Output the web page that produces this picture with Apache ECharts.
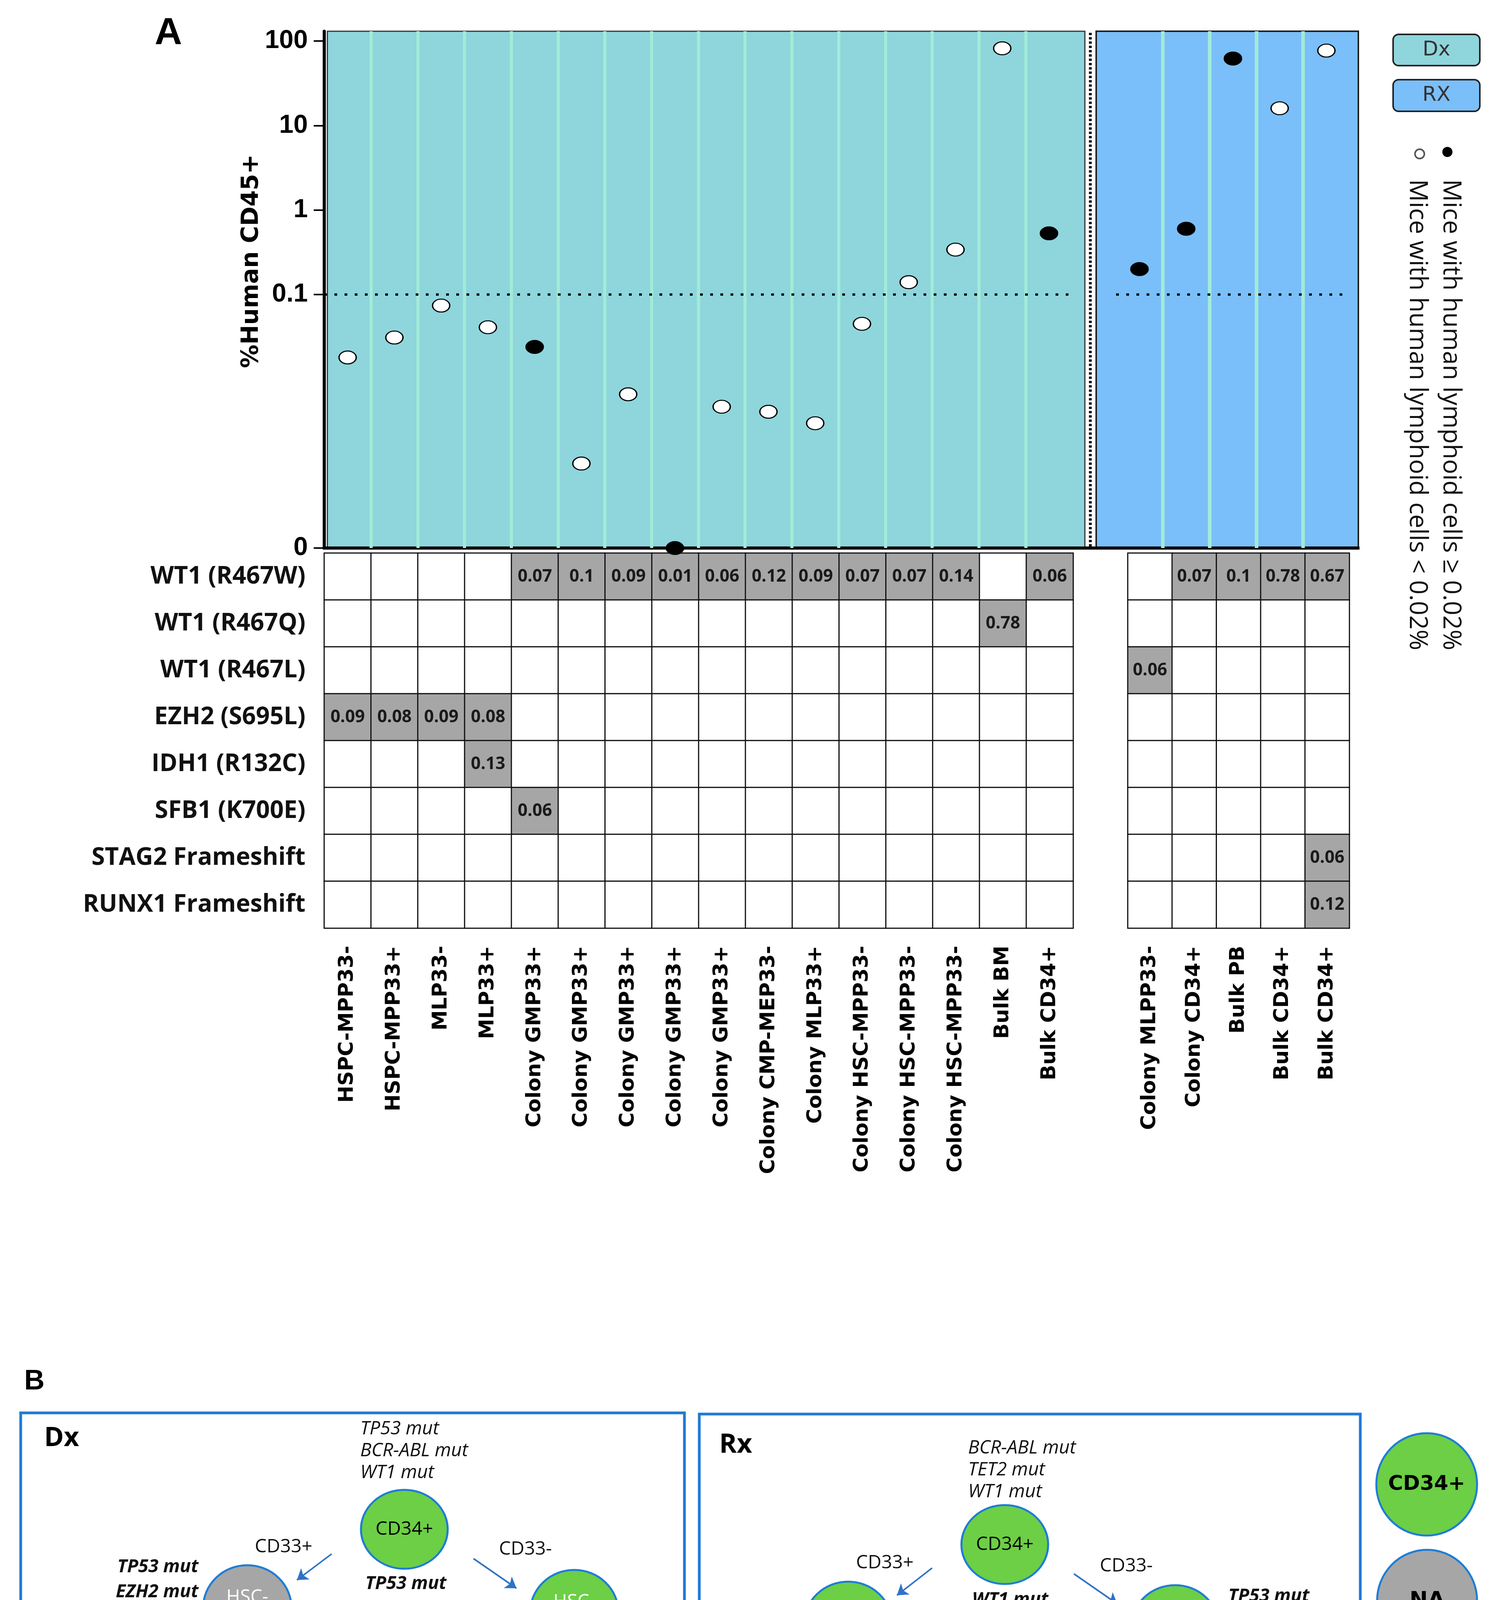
<!DOCTYPE html>
<html>
<head>
<meta charset="utf-8">
<script src="https://cdn.jsdelivr.net/npm/echarts@6/dist/echarts.min.js"></script>
<style>html,body{margin:0;padding:0;background:#fff;overflow:hidden}#chart{width:3855px;height:5317px}</style>
</head>
<body>
<div id="chart"></div>
<script>
// ================= DATA =================
const dxCategories = ['HSPC-MPP33-','HSPC-MPP33+','MLP33-','MLP33+','Colony GMP33+','Colony GMP33+','Colony GMP33+','Colony GMP33+','Colony GMP33+','Colony CMP-MEP33-','Colony MLP33+','Colony HSC-MPP33-','Colony HSC-MPP33-','Colony HSC-MPP33-','Bulk BM','Bulk CD34+'];
const rxCategories = ['Colony MLPP33-','Colony CD34+','Bulk PB','Bulk CD34+','Bulk CD34+'];
const dxHumanCD45 = [0.018, 0.031, 0.074, 0.041, 0.024, 0.001, 0.0066, 0, 0.0047, 0.0041, 0.0030, 0.045, 0.14, 0.34, 82, 0.53];
const rxHumanCD45 = [0.20, 0.60, 62, 16, 77];
const dxLymphoidHigh = [0,0,0,0,1,0,0,1,0,0,0,0,0,0,0,1];
const rxLymphoidHigh = [1,1,1,0,0];
const yTickLabels = [0, 0.1, 1, 10, 100];
const thresholdLine = 0.1;

const mutationRows = ['WT1 (R467W)','WT1 (R467Q)','WT1 (R467L)','EZH2 (S695L)','IDH1 (R132C)','SFB1 (K700E)','STAG2 Frameshift','RUNX1 Frameshift'];
const _ = null;
const dxVAF = [
  [_,_,_,_,0.07,0.1,0.09,0.01,0.06,0.12,0.09,0.07,0.07,0.14,_,0.06],
  [_,_,_,_,_,_,_,_,_,_,_,_,_,_,0.78,_],
  [_,_,_,_,_,_,_,_,_,_,_,_,_,_,_,_],
  [0.09,0.08,0.09,0.08,_,_,_,_,_,_,_,_,_,_,_,_],
  [_,_,_,0.13,_,_,_,_,_,_,_,_,_,_,_,_],
  [_,_,_,_,0.06,_,_,_,_,_,_,_,_,_,_,_],
  [_,_,_,_,_,_,_,_,_,_,_,_,_,_,_,_],
  [_,_,_,_,_,_,_,_,_,_,_,_,_,_,_,_]
];
const rxVAF = [
  [_,0.07,0.1,0.78,0.67],
  [_,_,_,_,_],
  [0.06,_,_,_,_],
  [_,_,_,_,_],
  [_,_,_,_,_],
  [_,_,_,_,_],
  [_,_,_,_,0.06],
  [_,_,_,_,0.12]
];

const treeNodeNames = {cd34:'CD34+', hscL:'HSC-\nMPP', hscR:'HSC-\nMPP', cmpL:'CMP', mlpL:'MLP', gmpL:'GMP', cmpR:'CMP', mlpR:'MLP', gmpR:'GMP'};
const treeEdges = [['cd34','hscL'],['cd34','hscR'],['hscL','cmpL'],['hscL','mlpL'],['cmpL','gmpL'],['hscR','cmpR'],['hscR','mlpR'],['cmpR','gmpR']];
const branchNames = ['CD33+','CD33-'];
const statusNames = ['CD34+','NA','Engraft'];
const dxStatus = {cd34:'CD34+', hscL:'NA', hscR:'CD34+', cmpL:'NA', mlpL:'Engraft', gmpL:'Engraft', cmpR:'NA', mlpR:'Engraft', gmpR:'Engraft'};
const rxStatus = {cd34:'CD34+', hscL:'CD34+', hscR:'CD34+', cmpL:'Engraft', mlpL:'CD34+', gmpL:'CD34+', cmpR:'Engraft', mlpR:'CD34+', gmpR:'CD34+'};
const dxMutations = {
  bulk: ['TP53 mut','BCR-ABL mut','WT1 mut'],
  cd34: ['TP53 mut','RUNX1 mut','WT1 mut'],
  hscL: ['TP53 mut','EZH2 mut','ASXL1 mut','WT1 mut'],
  cmpL: ['TP53 mut','RUNX1 mut','WT1 mut'],
  mlpL: ['TP53 mut','RUNX1 mut','WT1 mut',['IDH1 mut','cyan']],
  gmpL: ['TP53 mut','RUNX1 mut','WT1 mut','IDH1 mut',['TET2 mut','red'],'PPM1D mut','SF3B1 mut'],
  cmpR: ['WT1 mut'],
  gmpR: ['WT1 mut']
};
const rxMutations = {
  bulk: ['BCR-ABL mut','TET2 mut','WT1 mut'],
  cd34: ['WT1 mut',['RUNX1 mut','cyan'],['STAG2 mut','cyan']],
  hscL: ['NA'],
  hscR: ['TP53 mut','RUNX1 mut','WT1 mut','IDH1 mut'],
  mlpL: ['TP53 mut','RUNX1 mut','WT1 mut','PTPN11 mut'],
  gmpL: ['TP53 mut','RUNX1 mut','WT1 mut',['NA','cyan']],
  gmpR: ['TP53 mut','WT1 mut','SF3B1 mut',['NA','cyan']]
};

// ================= STYLE / LAYOUT =================
const F_UI = "'Open Sans','Noto Sans',sans-serif";
const F_AX = "'DejaVu Sans',Verdana,sans-serif";
const F_AR = "'Liberation Sans',Arial,sans-serif";
const ELLIPSE = 'path://M0 50A50 50 0 1 1 100 50A50 50 0 1 1 0 50Z';
const C = {teal:'#8FD5DC', blue:'#7ABFF9', stripe:'#A2EBD7', cell:'#A6A6A6', green:'#6CCF45', gray:'#A6A6A6',
  navy:'#0A549C', ring:'#1E7DD6', arrow:'#2F72C8', cyan:'#00B0F0', red:'#FF0000', frame:'#1F7AD6'};
const STATUS_FILL = {'CD34+':C.green, 'NA':C.gray, 'Engraft':C.navy};
const STATUS_TEXT = {'CD34+':'#000', 'NA':'#fff', 'Engraft':'#fff'};
const CLEAR = 'rgba(0,0,0,0)';
const Y_FLOOR = 1e-4;
const Y_TOP = 130.5;

const LAYOUT = {
  dx: {
    nodes: {cd34:[1035,3915], hscL:[633,4116], hscR:[1470,4128], cmpL:[445,4400], mlpL:[758,4400], gmpL:[446,4675], cmpR:[1296,4411], mlpR:[1600,4417], gmpR:[1297,4687]},
    textColor: {hscR:'#fff', cmpL:'#000'},
    arrows: [[849,3978,760,4045],[1212,3990,1322,4066],[536,4253,513,4288],[704,4253,735,4288],[446,4538,446,4568],[1387,4267,1368,4300],[1546,4267,1578,4306],[1297,4550,1297,4579]],
    notes: {bulk:{x:922,y:3630,align:'left',base:'i'}, cd34:{x:1039,y:4022,align:'center'}, hscL:{x:508,y:3979,align:'right'}, cmpL:{x:321,y:4294,align:'right'},
            mlpL:{x:667,y:4516,align:'left'}, gmpL:{x:335,y:4781,align:'left'}, cmpR:{x:1175,y:4385,align:'right'}, gmpR:{x:1296,y:4805,align:'center'}},
    branch: [[726,3960],[1345,3966]],
    frame: [53,3617,1699,1638], title: [113,3683], titleText: 'Dx'
  },
  rx: {
    nodes: {cd34:[2572,3954], hscL:[2171,4158], hscR:[3008,4167], cmpL:[1983,4433], mlpL:[2299,4439], gmpL:[1983,4710], cmpR:[2835,4450], mlpR:[3139,4461], gmpR:[2835,4727]},
    textColor: {},
    arrows: [[2386,4014,2296,4084],[2749,4029,2860,4106],[2076,4295,2053,4328],[2241,4295,2273,4331],[1983,4567,1983,4601],[2927,4306,2907,4342],[3084,4306,3117,4344],[2835,4581,2835,4612]],
    notes: {bulk:{x:2478,y:3679,align:'left',base:'i'}, cd34:{x:2586,y:4063,align:'center'}, hscL:{x:2031,y:4118,align:'right'}, hscR:{x:3144,y:4054,align:'left'},
            mlpL:{x:2204,y:4556,align:'left'}, gmpL:{x:1872,y:4824,align:'left'}, gmpR:{x:2734,y:4846,align:'left'}},
    branch: [[2265,4001],[2883,4009]],
    frame: [1790,3620,1692,1640], title: [1841,3700], titleText: 'Rx'
  },
  legendNodes: [[3652,3800,258,262],[3653,4098,256,261],[3657,4394,263,262]]
};

// ================= BUILD =================
function scatterData(vals, flags) {
  return vals.map((v, i) => ({ value: [i, v === 0 ? Y_FLOOR : v], itemStyle: { color: flags[i] ? '#000' : '#fff' } }));
}
// light column stripes on the boundaries between samples + dotted threshold line
function panelLines(nCats, stripeWidth) {
  const out = [];
  for (let k = 1; k < nCats; k++) {
    out.push({ xAxis: k - 0.5, lineStyle: { color: C.stripe, width: stripeWidth, type: 'solid' } });
  }
  out.push({ yAxis: thresholdLine, lineStyle: { color: '#000', width: 6, type: [7, 19] } });
  return out;
}
function heatData(table) {
  const out = [];
  table.forEach((row, r) => row.forEach((v, c) => {
    out.push({ value: [c, r, v == null ? 0 : v], itemStyle: { color: v == null ? '#fff' : C.cell },
      label: { show: v != null, formatter: v == null ? '' : String(v) } });
  }));
  return out;
}
const tickExp = yTickLabels.map(v => Math.log10(v === 0 ? Y_FLOOR : v));
function tickFormatter(val) {
  const i = tickExp.findIndex(t => Math.abs(t - val) < 1e-6);
  return i < 0 ? '' : String(yTickLabels[i]);
}

const nodeItems = [], arrowItems = [], noteItems = [];
function buildPanel(key, status, mutations) {
  const L = LAYOUT[key];
  Object.keys(treeNodeNames).forEach(id => {
    const p = L.nodes[id];
    const st = status[id];
    const size = id === 'cd34' ? [222, 202] : [226, 218];
    nodeItems.push({ value: p, symbolSize: size, itemStyle: { color: STATUS_FILL[st] },
      label: { formatter: treeNodeNames[id], color: L.textColor[id] || STATUS_TEXT[st] } });
  });
  treeEdges.forEach((e, i) => {
    const a = L.arrows[i];
    arrowItems.push({ coords: [[a[0], a[1]], [a[2], a[3]]] });
  });
  Object.keys(mutations).forEach(id => {
    const n = L.notes[id];
    const base = n.base || 'b';
    const txt = mutations[id].map(l => {
      const t = Array.isArray(l) ? l[0] : l;
      const tone = Array.isArray(l) ? l[1] : null;
      const k = tone === 'cyan' ? (base + 'c') : tone === 'red' ? (base + 'r') : base;
      return '{' + k + '|' + t + '}';
    }).join('\n');
    noteItems.push({ value: [n.x, n.y], label: { formatter: txt, align: n.align, verticalAlign: 'top' } });
  });
  branchNames.forEach((b, i) => {
    noteItems.push({ value: L.branch[i], label: { formatter: '{n|' + b + '}', align: 'center', verticalAlign: 'middle' } });
  });
}
buildPanel('dx', dxStatus, dxMutations);
buildPanel('rx', rxStatus, rxMutations);

const legendItems = statusNames.map((s, i) => {
  const g = LAYOUT.legendNodes[i];
  return { value: [g[0], g[1]], symbolSize: [g[2], g[3]],
    itemStyle: { color: STATUS_FILL[s], borderColor: s === 'Engraft' ? '#123A6B' : C.ring },
    label: { formatter: s === 'Engraft' ? '' : s, color: '#000', fontFamily: F_AX, fontWeight: 'bold', fontSize: s === 'NA' ? 56 : 52 } };
});
const engraftIdx = statusNames.indexOf('Engraft');
const engraftPos = LAYOUT.legendNodes[engraftIdx];

const richBase = { fontFamily: F_UI, fontStyle: 'italic', fontWeight: 'bold', fontSize: 47, lineHeight: 64.5 };
const richLight = { fontFamily: F_UI, fontStyle: 'italic', fontWeight: 500, fontSize: 48, lineHeight: 56 };
const rich = {
  b: Object.assign({ color: '#111' }, richBase),
  bc: Object.assign({ color: C.cyan }, richBase),
  br: Object.assign({ color: C.red }, richBase),
  i: Object.assign({ color: '#111' }, richLight),
  n: { fontFamily: F_UI, fontSize: 48, color: '#111', lineHeight: 60 },
  e: { fontFamily: F_AX, fontWeight: 'bold', fontSize: 50, color: '#fff', lineHeight: 60 }
};
noteItems.push({ value: [engraftPos[0], engraftPos[1]], label: { formatter: '{e|Engraft}', align: 'center', verticalAlign: 'middle' } });

function frameRect(L) {
  const f = L.frame;
  return [
    { type: 'rect', shape: { x: f[0], y: f[1], width: f[2], height: f[3] }, style: { fill: 'none', stroke: C.frame, lineWidth: 7 } },
    { type: 'text', x: L.title[0], y: L.title[1], style: { text: L.titleText, font: "bold 68px 'Open Sans'", fill: '#000', align: 'left', verticalAlign: 'middle', textAlign: 'left', textVerticalAlign: 'middle' } }
  ];
}
function legendBox(y, h, fill, label) {
  return [
    { type: 'rect', shape: { x: 3566, y: y, width: 222, height: h, r: 14 }, style: { fill: fill, stroke: '#222', lineWidth: 4 } },
    { type: 'text', x: 3677, y: y + h / 2, style: { text: label, font: "52px 'DejaVu Sans'", fill: '#333', align: 'center', verticalAlign: 'middle', textAlign: 'center', textVerticalAlign: 'middle' } }
  ];
}
const graphics = [
  { type: 'rect', z: -1, shape: { x: 838, y: 80, width: 1939, height: 1323 }, style: { fill: C.teal, stroke: '#333', lineWidth: 3 } },
  { type: 'rect', z: -1, shape: { x: 2806, y: 80, width: 671, height: 1323 }, style: { fill: C.blue, stroke: '#222', lineWidth: 4 } },
  { type: 'line', z: 3, shape: { x1: 2791, y1: 84, x2: 2791, y2: 1400 }, style: { stroke: '#000', lineWidth: 7, lineDash: [6, 5] } },
  { type: 'line', z: 3, shape: { x1: 826, y1: 1403, x2: 3480, y2: 1403 }, style: { stroke: '#000', lineWidth: 8 } },
  { type: 'text', x: 396, y: 86, style: { text: 'A', font: "bold 97px 'Liberation Sans'", fill: '#000', align: 'left', verticalAlign: 'middle', textAlign: 'left', textVerticalAlign: 'middle' } },
  { type: 'text', x: 62, y: 3537, style: { text: 'B', font: "bold 72px 'Liberation Sans'", fill: '#000', align: 'left', verticalAlign: 'middle', textAlign: 'left', textVerticalAlign: 'middle' } },
  ...legendBox(88, 80, C.teal, 'Dx'),
  ...legendBox(204, 81, C.blue, 'RX'),
  { type: 'circle', shape: { cx: 3705, cy: 389, r: 13 }, style: { fill: '#000' } },
  { type: 'circle', shape: { cx: 3634, cy: 394, r: 12 }, style: { fill: '#fff', stroke: '#555', lineWidth: 4 } },
  { type: 'text', x: 3713, y: 459, rotation: -Math.PI / 2, style: { text: 'Mice with human lymphoid cells \u2265 0.02%', font: "64px 'Open Sans'", fill: '#111', align: 'left', verticalAlign: 'middle', textAlign: 'left', textVerticalAlign: 'middle' } },
  { type: 'text', x: 3627, y: 459, rotation: -Math.PI / 2, style: { text: 'Mice with human lymphoid cells < 0.02%', font: "64px 'Open Sans'", fill: '#111', align: 'left', verticalAlign: 'middle', textAlign: 'left', textVerticalAlign: 'middle' } },
  ...frameRect(LAYOUT.dx),
  ...frameRect(LAYOUT.rx)
];

const scatterCommon = {
  type: 'scatter', symbol: ELLIPSE, symbolSize: [44, 33], z: 5, clip: false,
  itemStyle: { borderColor: '#000', borderWidth: 3, opacity: 1 },
  emphasis: { disabled: true }
};
const markCommon = { silent: true, symbol: 'none', label: { show: false }, animation: false, emphasis: { disabled: true } };
const heatCommon = {
  type: 'heatmap', z: 2,
  itemStyle: { borderColor: '#111', borderWidth: 3 },
  label: { show: true, fontFamily: F_UI, fontWeight: 'bold', fontSize: 44, color: '#1a1a1a' },
  emphasis: { disabled: true }
};
const catXLabel = { show: true, rotate: 90, interval: 0, margin: 45, fontFamily: F_AX, fontWeight: 'bold', fontSize: 52, color: '#000' };

const option = {
  animation: false,
  backgroundColor: '#fff',
  textStyle: { fontFamily: F_UI },
  grid: [
    { left: 830, top: 80, width: 1915, height: 1323 },
    { left: 2857, top: 80, width: 598, height: 1323 },
    { left: 830, top: 1416, width: 1917, height: 960 },
    { left: 2887, top: 1416, width: 567, height: 960 },
    { left: 0, top: 0, width: 3855, height: 5317 }
  ],
  xAxis: [
    // sample index axes for the scatter panels (one band per sample, labels live on the table below)
    { type: 'value', gridIndex: 0, min: -0.5, max: dxCategories.length - 0.5, show: false },
    { type: 'value', gridIndex: 1, min: -0.5, max: rxCategories.length - 0.5, show: false },
    { type: 'category', gridIndex: 2, data: dxCategories, axisLine: { show: false }, axisTick: { show: false }, axisLabel: catXLabel, splitLine: { show: false } },
    { type: 'category', gridIndex: 3, data: rxCategories, axisLine: { show: false }, axisTick: { show: false }, axisLabel: catXLabel, splitLine: { show: false } },
    { type: 'value', gridIndex: 4, min: 0, max: 3855, show: false }
  ],
  yAxis: [
    { type: 'log', gridIndex: 0, min: Y_FLOOR, max: Y_TOP, show: false, position: 'right' },
    { type: 'value', gridIndex: 0, min: Math.log10(Y_FLOOR), max: Math.log10(Y_TOP), position: 'left', z: 3,
      axisLine: { show: true, lineStyle: { color: '#000', width: 8 } },
      axisTick: { show: true, customValues: tickExp, length: 27, lineStyle: { color: '#000', width: 4 } },
      axisLabel: { show: true, customValues: tickExp, formatter: tickFormatter, margin: 42, fontFamily: F_AR, fontWeight: 'bold', fontSize: 66, color: '#000' },
      splitLine: { show: false },
      name: '%Human CD45+', nameLocation: 'middle', nameGap: 136,
      nameTextStyle: { fontFamily: F_AX, fontWeight: 'bold', fontSize: 60, color: '#000', padding: [0, 0, 0, 146] } },
    { type: 'log', gridIndex: 1, min: Y_FLOOR, max: Y_TOP, show: false },
    { type: 'category', gridIndex: 2, data: mutationRows, inverse: true, axisLine: { show: false }, axisTick: { show: false },
      axisLabel: { show: true, margin: 48, fontFamily: F_UI, fontWeight: 'bold', fontSize: 62, color: '#111' }, splitLine: { show: false } },
    { type: 'category', gridIndex: 3, data: mutationRows, inverse: true, show: false },
    { type: 'value', gridIndex: 4, min: 0, max: 5317, inverse: true, show: false }
  ],
  graphic: { elements: graphics },
  series: [
    Object.assign({}, scatterCommon, { name: 'Dx', xAxisIndex: 0, yAxisIndex: 0, data: scatterData(dxHumanCD45, dxLymphoidHigh),
      markLine: Object.assign({ data: panelLines(dxCategories.length, 8) }, markCommon) }),
    Object.assign({}, scatterCommon, { name: 'Rx', xAxisIndex: 1, yAxisIndex: 2, data: scatterData(rxHumanCD45, rxLymphoidHigh),
      markLine: Object.assign({ data: panelLines(rxCategories.length, 9) }, markCommon) }),
    Object.assign({}, heatCommon, { name: 'Dx VAF', xAxisIndex: 2, yAxisIndex: 3, data: heatData(dxVAF) }),
    Object.assign({}, heatCommon, { name: 'Rx VAF', xAxisIndex: 3, yAxisIndex: 4, data: heatData(rxVAF) }),
    { type: 'lines', coordinateSystem: 'cartesian2d', xAxisIndex: 4, yAxisIndex: 5, z: 4, silent: true,
      symbol: ['none', 'arrow'], symbolSize: 27, lineStyle: { color: C.arrow, width: 4, opacity: 1, curveness: 0 }, data: arrowItems },
    { type: 'scatter', xAxisIndex: 4, yAxisIndex: 5, z: 5, symbol: ELLIPSE, silent: true, clip: false,
      itemStyle: { borderColor: C.ring, borderWidth: 5, opacity: 1 },
      label: { show: true, position: 'inside', fontFamily: F_UI, fontSize: 48, lineHeight: 54 },
      emphasis: { disabled: true }, data: nodeItems.concat(legendItems) },
    { type: 'scatter', xAxisIndex: 4, yAxisIndex: 5, z: 6, symbolSize: 2, silent: true, clip: false,
      itemStyle: { color: CLEAR, borderWidth: 0, opacity: 1 },
      label: { show: true, position: 'inside', formatter: 'X', fontFamily: F_AR, fontWeight: 'bold', fontSize: 265, color: '#808080', opacity: 1 },
      emphasis: { disabled: true }, data: [[engraftPos[0], engraftPos[1] + 4]] },
    { type: 'scatter', xAxisIndex: 4, yAxisIndex: 5, z: 7, symbolSize: 2, silent: true, clip: false,
      itemStyle: { color: CLEAR, borderWidth: 0, opacity: 1 },
      label: { show: true, position: [1, 1], rich: rich, opacity: 1 }, emphasis: { disabled: true }, data: noteItems }
  ]
};

const chart = echarts.init(document.getElementById('chart'), null, { renderer: 'canvas', width: 3855, height: 5317 });
chart.setOption(option);
</script>
</body>
</html>
